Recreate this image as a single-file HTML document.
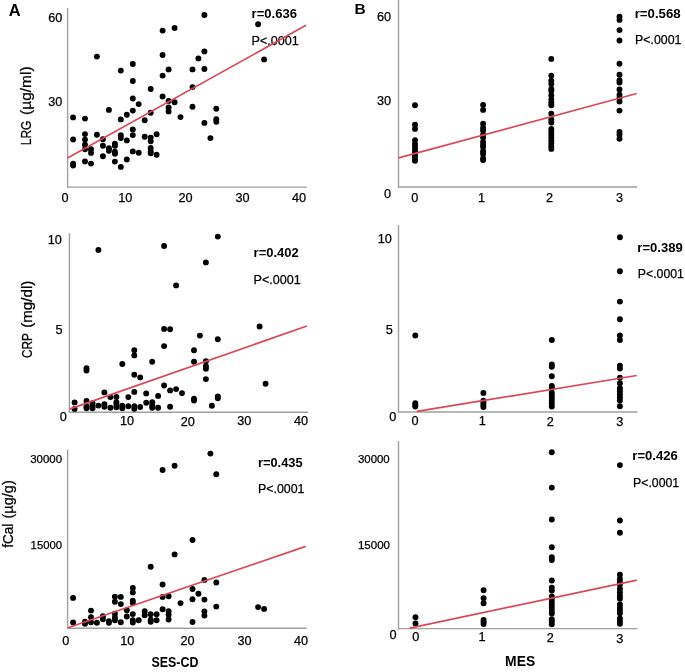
<!DOCTYPE html>
<html><head><meta charset="utf-8"><style>
html,body{margin:0;padding:0;background:#fff;}
svg{display:block;font-family:"Liberation Sans", sans-serif;will-change:transform;}
text{stroke:#000;stroke-width:0.25px;}
text[font-weight=bold]{stroke:none;}
</style></head><body>
<svg width="685" height="672" viewBox="0 0 685 672" fill="#000">
<text x="8.8" y="15.8" font-size="16.4" text-anchor="start" font-weight="bold">A</text>
<line x1="67.6" y1="8" x2="67.6" y2="187.8" stroke="#a0a0a0" stroke-width="1.4"/>
<line x1="67.0" y1="187.1" x2="306.9" y2="187.1" stroke="#a0a0a0" stroke-width="1.4"/>
<text x="62.4" y="22.0" font-size="12.7" text-anchor="end">60</text>
<text x="62.4" y="106.1" font-size="12.7" text-anchor="end">30</text>
<text x="65" y="202" font-size="12.7" text-anchor="middle">0</text>
<text x="125.2" y="202" font-size="12.7" text-anchor="middle">10</text>
<text x="185.5" y="202" font-size="12.7" text-anchor="middle">20</text>
<text x="242.5" y="202" font-size="12.7" text-anchor="middle">30</text>
<text x="299" y="202" font-size="12.7" text-anchor="middle">40</text>
<circle cx="73.1" cy="117.4" r="2.95"/>
<circle cx="73.1" cy="139.5" r="2.95"/>
<circle cx="73.1" cy="163.6" r="2.95"/>
<circle cx="73.1" cy="165.6" r="2.95"/>
<circle cx="85.0" cy="118.6" r="2.95"/>
<circle cx="85.0" cy="134.1" r="2.95"/>
<circle cx="85.0" cy="139.6" r="2.95"/>
<circle cx="85.0" cy="144.8" r="2.95"/>
<circle cx="85.0" cy="149.2" r="2.95"/>
<circle cx="85.0" cy="161.4" r="2.95"/>
<circle cx="91.0" cy="149.2" r="2.95"/>
<circle cx="91.0" cy="152.9" r="2.95"/>
<circle cx="91.0" cy="163.6" r="2.95"/>
<circle cx="96.9" cy="56.6" r="2.95"/>
<circle cx="96.9" cy="134.8" r="2.95"/>
<circle cx="102.9" cy="139.3" r="2.95"/>
<circle cx="102.9" cy="145.7" r="2.95"/>
<circle cx="102.9" cy="156.2" r="2.95"/>
<circle cx="108.9" cy="109.9" r="2.95"/>
<circle cx="108.9" cy="148.2" r="2.95"/>
<circle cx="108.9" cy="150.7" r="2.95"/>
<circle cx="114.9" cy="143.8" r="2.95"/>
<circle cx="114.9" cy="145.7" r="2.95"/>
<circle cx="114.9" cy="151.7" r="2.95"/>
<circle cx="114.9" cy="153.7" r="2.95"/>
<circle cx="114.9" cy="161.6" r="2.95"/>
<circle cx="120.8" cy="70.6" r="2.95"/>
<circle cx="120.8" cy="119.4" r="2.95"/>
<circle cx="120.8" cy="135.3" r="2.95"/>
<circle cx="120.8" cy="138.0" r="2.95"/>
<circle cx="120.8" cy="166.9" r="2.95"/>
<circle cx="126.8" cy="114.8" r="2.95"/>
<circle cx="126.8" cy="140.4" r="2.95"/>
<circle cx="126.8" cy="159.5" r="2.95"/>
<circle cx="132.8" cy="64.0" r="2.95"/>
<circle cx="132.8" cy="81.0" r="2.95"/>
<circle cx="132.8" cy="98.5" r="2.95"/>
<circle cx="132.8" cy="110.6" r="2.95"/>
<circle cx="132.8" cy="129.5" r="2.95"/>
<circle cx="132.8" cy="135.1" r="2.95"/>
<circle cx="132.8" cy="151.4" r="2.95"/>
<circle cx="138.7" cy="104.1" r="2.95"/>
<circle cx="138.7" cy="152.7" r="2.95"/>
<circle cx="144.7" cy="120.3" r="2.95"/>
<circle cx="144.7" cy="136.7" r="2.95"/>
<circle cx="150.7" cy="89.0" r="2.95"/>
<circle cx="150.7" cy="112.7" r="2.95"/>
<circle cx="150.7" cy="137.6" r="2.95"/>
<circle cx="150.7" cy="141.3" r="2.95"/>
<circle cx="150.7" cy="147.9" r="2.95"/>
<circle cx="150.7" cy="151.4" r="2.95"/>
<circle cx="150.7" cy="153.3" r="2.95"/>
<circle cx="156.6" cy="134.2" r="2.95"/>
<circle cx="156.6" cy="154.8" r="2.95"/>
<circle cx="162.6" cy="30.6" r="2.95"/>
<circle cx="162.6" cy="55.0" r="2.95"/>
<circle cx="162.6" cy="75.6" r="2.95"/>
<circle cx="162.6" cy="96.5" r="2.95"/>
<circle cx="168.6" cy="69.4" r="2.95"/>
<circle cx="168.6" cy="100.9" r="2.95"/>
<circle cx="168.6" cy="107.4" r="2.95"/>
<circle cx="168.6" cy="111.4" r="2.95"/>
<circle cx="174.6" cy="28.0" r="2.95"/>
<circle cx="174.6" cy="102.2" r="2.95"/>
<circle cx="180.5" cy="117.1" r="2.95"/>
<circle cx="192.5" cy="69.4" r="2.95"/>
<circle cx="192.5" cy="87.1" r="2.95"/>
<circle cx="192.5" cy="106.8" r="2.95"/>
<circle cx="198.4" cy="58.4" r="2.95"/>
<circle cx="204.4" cy="15.0" r="2.95"/>
<circle cx="204.4" cy="51.4" r="2.95"/>
<circle cx="204.4" cy="69.0" r="2.95"/>
<circle cx="204.4" cy="122.9" r="2.95"/>
<circle cx="210.4" cy="138.1" r="2.95"/>
<circle cx="216.3" cy="108.8" r="2.95"/>
<circle cx="216.3" cy="119.2" r="2.95"/>
<circle cx="216.3" cy="121.7" r="2.95"/>
<circle cx="258.1" cy="24.2" r="2.95"/>
<circle cx="264.1" cy="59.4" r="2.95"/>
<text x="251.6" y="18.4" font-size="12.7" text-anchor="start" font-weight="bold" textLength="45.4" lengthAdjust="spacingAndGlyphs">r=0.636</text>
<text x="251.6" y="45.0" font-size="12.7" text-anchor="start" textLength="47.2" lengthAdjust="spacingAndGlyphs">P&lt;.0001</text>
<line x1="67.6" y1="158.0" x2="306.0" y2="25.3" stroke="#d84a5a" stroke-width="1.7"/>
<text x="0" y="0" font-size="14.4" textLength="24.7" lengthAdjust="spacingAndGlyphs" transform="translate(30.6,145.3) rotate(-90)">LRG</text>
<text x="0" y="0" font-size="14.4" textLength="48.5" lengthAdjust="spacingAndGlyphs" transform="translate(30.6,114.9) rotate(-90)">(µg/ml)</text>
<text x="354.6" y="14.0" font-size="15.5" text-anchor="start" font-weight="bold">B</text>
<line x1="398.5" y1="0" x2="398.5" y2="187.8" stroke="#a0a0a0" stroke-width="1.4"/>
<line x1="397.9" y1="187.0" x2="637.1" y2="187.0" stroke="#a0a0a0" stroke-width="1.4"/>
<text x="391.1" y="20.7" font-size="12.7" text-anchor="end">60</text>
<text x="391.1" y="105.0" font-size="12.7" text-anchor="end">30</text>
<text x="391.0" y="197.7" font-size="12.7" text-anchor="end">0</text>
<text x="414.8" y="202" font-size="12.7" text-anchor="middle">0</text>
<text x="481.5" y="202" font-size="12.7" text-anchor="middle">1</text>
<text x="549.5" y="202" font-size="12.7" text-anchor="middle">2</text>
<text x="619.6" y="202" font-size="12.7" text-anchor="middle">3</text>
<circle cx="415.0" cy="105.2" r="2.95"/>
<circle cx="415.0" cy="124.7" r="2.95"/>
<circle cx="415.0" cy="128.9" r="2.95"/>
<circle cx="415.0" cy="140.1" r="2.95"/>
<circle cx="415.0" cy="143.6" r="2.95"/>
<circle cx="415.0" cy="146.1" r="2.95"/>
<circle cx="415.0" cy="149.0" r="2.95"/>
<circle cx="415.0" cy="151.5" r="2.95"/>
<circle cx="415.0" cy="154.2" r="2.95"/>
<circle cx="415.0" cy="157.0" r="2.95"/>
<circle cx="415.0" cy="159.6" r="2.95"/>
<circle cx="415.0" cy="160.8" r="2.95"/>
<circle cx="483.1" cy="104.9" r="2.95"/>
<circle cx="483.1" cy="109.9" r="2.95"/>
<circle cx="483.1" cy="123.7" r="2.95"/>
<circle cx="483.1" cy="128.0" r="2.95"/>
<circle cx="483.1" cy="130.6" r="2.95"/>
<circle cx="483.1" cy="134.6" r="2.95"/>
<circle cx="483.1" cy="137.5" r="2.95"/>
<circle cx="483.1" cy="142.0" r="2.95"/>
<circle cx="483.1" cy="144.8" r="2.95"/>
<circle cx="483.1" cy="147.0" r="2.95"/>
<circle cx="483.1" cy="151.2" r="2.95"/>
<circle cx="483.1" cy="154.0" r="2.95"/>
<circle cx="483.1" cy="158.4" r="2.95"/>
<circle cx="483.1" cy="160.1" r="2.95"/>
<circle cx="551.3" cy="58.9" r="2.95"/>
<circle cx="551.3" cy="75.6" r="2.95"/>
<circle cx="551.3" cy="80.8" r="2.95"/>
<circle cx="551.3" cy="84.0" r="2.95"/>
<circle cx="551.3" cy="89.0" r="2.95"/>
<circle cx="551.3" cy="91.0" r="2.95"/>
<circle cx="551.3" cy="95.4" r="2.95"/>
<circle cx="551.3" cy="99.6" r="2.95"/>
<circle cx="551.3" cy="102.4" r="2.95"/>
<circle cx="551.3" cy="105.2" r="2.95"/>
<circle cx="551.3" cy="113.8" r="2.95"/>
<circle cx="551.3" cy="119.4" r="2.95"/>
<circle cx="551.3" cy="122.5" r="2.95"/>
<circle cx="551.3" cy="129.0" r="2.95"/>
<circle cx="551.3" cy="131.8" r="2.95"/>
<circle cx="551.3" cy="134.7" r="2.95"/>
<circle cx="551.3" cy="137.6" r="2.95"/>
<circle cx="551.3" cy="140.5" r="2.95"/>
<circle cx="551.3" cy="143.4" r="2.95"/>
<circle cx="551.3" cy="146.2" r="2.95"/>
<circle cx="551.3" cy="148.9" r="2.95"/>
<circle cx="619.5" cy="16.8" r="2.95"/>
<circle cx="619.5" cy="19.9" r="2.95"/>
<circle cx="619.5" cy="30.1" r="2.95"/>
<circle cx="619.5" cy="40.5" r="2.95"/>
<circle cx="619.5" cy="63.8" r="2.95"/>
<circle cx="619.5" cy="74.7" r="2.95"/>
<circle cx="619.5" cy="80.3" r="2.95"/>
<circle cx="619.5" cy="82.5" r="2.95"/>
<circle cx="619.5" cy="89.4" r="2.95"/>
<circle cx="619.5" cy="94.8" r="2.95"/>
<circle cx="619.5" cy="98.0" r="2.95"/>
<circle cx="619.5" cy="101.5" r="2.95"/>
<circle cx="619.5" cy="110.6" r="2.95"/>
<circle cx="619.5" cy="132.0" r="2.95"/>
<circle cx="619.5" cy="134.8" r="2.95"/>
<circle cx="619.5" cy="138.8" r="2.95"/>
<text x="634.7" y="18.0" font-size="12.7" text-anchor="start" font-weight="bold" textLength="45.9" lengthAdjust="spacingAndGlyphs">r=0.568</text>
<text x="635.1" y="44.3" font-size="12.7" text-anchor="start" textLength="46.3" lengthAdjust="spacingAndGlyphs">P&lt;.0001</text>
<line x1="398.6" y1="157.9" x2="636.7" y2="93.5" stroke="#d84a5a" stroke-width="1.7"/>
<line x1="69.4" y1="233.1" x2="69.4" y2="412.7" stroke="#a0a0a0" stroke-width="1.4"/>
<line x1="68.8" y1="412.2" x2="308.2" y2="412.2" stroke="#a0a0a0" stroke-width="1.4"/>
<text x="61.9" y="243.6" font-size="12.7" text-anchor="end">10</text>
<text x="62.6" y="334.1" font-size="12.7" text-anchor="end">5</text>
<text x="66.8" y="420.8" font-size="12.7" text-anchor="end">0</text>
<text x="127" y="424.7" font-size="12.7" text-anchor="middle">10</text>
<text x="187.7" y="426.2" font-size="12.7" text-anchor="middle">20</text>
<text x="244.3" y="424.6" font-size="12.7" text-anchor="middle">30</text>
<text x="301" y="425.2" font-size="12.7" text-anchor="middle">40</text>
<circle cx="74.6" cy="402.4" r="2.95"/>
<circle cx="74.6" cy="408.9" r="2.95"/>
<circle cx="86.5" cy="368.2" r="2.95"/>
<circle cx="86.5" cy="370.6" r="2.95"/>
<circle cx="86.5" cy="400.9" r="2.95"/>
<circle cx="86.5" cy="406.3" r="2.95"/>
<circle cx="86.5" cy="408.3" r="2.95"/>
<circle cx="92.5" cy="403.3" r="2.95"/>
<circle cx="92.5" cy="406.3" r="2.95"/>
<circle cx="92.5" cy="408.3" r="2.95"/>
<circle cx="98.4" cy="250.0" r="2.95"/>
<circle cx="98.4" cy="405.6" r="2.95"/>
<circle cx="104.4" cy="392.4" r="2.95"/>
<circle cx="104.4" cy="404.3" r="2.95"/>
<circle cx="104.4" cy="406.8" r="2.95"/>
<circle cx="110.4" cy="397.1" r="2.95"/>
<circle cx="110.4" cy="407.8" r="2.95"/>
<circle cx="116.4" cy="396.9" r="2.95"/>
<circle cx="116.4" cy="402.3" r="2.95"/>
<circle cx="116.4" cy="404.8" r="2.95"/>
<circle cx="116.4" cy="407.3" r="2.95"/>
<circle cx="122.3" cy="364.0" r="2.95"/>
<circle cx="122.3" cy="405.8" r="2.95"/>
<circle cx="122.3" cy="408.3" r="2.95"/>
<circle cx="128.3" cy="397.1" r="2.95"/>
<circle cx="128.3" cy="406.3" r="2.95"/>
<circle cx="134.3" cy="350.3" r="2.95"/>
<circle cx="134.3" cy="355.4" r="2.95"/>
<circle cx="134.3" cy="374.8" r="2.95"/>
<circle cx="134.3" cy="391.9" r="2.95"/>
<circle cx="134.3" cy="406.3" r="2.95"/>
<circle cx="134.3" cy="408.8" r="2.95"/>
<circle cx="140.2" cy="377.4" r="2.95"/>
<circle cx="140.2" cy="407.0" r="2.95"/>
<circle cx="146.2" cy="393.4" r="2.95"/>
<circle cx="146.2" cy="402.8" r="2.95"/>
<circle cx="152.2" cy="361.7" r="2.95"/>
<circle cx="152.2" cy="402.3" r="2.95"/>
<circle cx="152.2" cy="405.3" r="2.95"/>
<circle cx="152.2" cy="407.8" r="2.95"/>
<circle cx="158.1" cy="395.9" r="2.95"/>
<circle cx="158.1" cy="407.8" r="2.95"/>
<circle cx="164.1" cy="246.0" r="2.95"/>
<circle cx="164.1" cy="328.9" r="2.95"/>
<circle cx="164.1" cy="346.1" r="2.95"/>
<circle cx="164.1" cy="385.5" r="2.95"/>
<circle cx="170.1" cy="329.2" r="2.95"/>
<circle cx="170.1" cy="390.4" r="2.95"/>
<circle cx="170.1" cy="406.8" r="2.95"/>
<circle cx="176.1" cy="285.4" r="2.95"/>
<circle cx="176.1" cy="389.1" r="2.95"/>
<circle cx="182.0" cy="393.1" r="2.95"/>
<circle cx="194.0" cy="350.3" r="2.95"/>
<circle cx="194.0" cy="361.7" r="2.95"/>
<circle cx="194.0" cy="398.7" r="2.95"/>
<circle cx="194.0" cy="400.5" r="2.95"/>
<circle cx="199.9" cy="335.6" r="2.95"/>
<circle cx="205.9" cy="262.4" r="2.95"/>
<circle cx="205.9" cy="361.2" r="2.95"/>
<circle cx="205.9" cy="366.2" r="2.95"/>
<circle cx="205.9" cy="368.7" r="2.95"/>
<circle cx="205.9" cy="379.1" r="2.95"/>
<circle cx="211.9" cy="405.7" r="2.95"/>
<circle cx="217.8" cy="236.6" r="2.95"/>
<circle cx="217.8" cy="339.2" r="2.95"/>
<circle cx="217.8" cy="396.5" r="2.95"/>
<circle cx="217.8" cy="398.2" r="2.95"/>
<circle cx="259.6" cy="326.5" r="2.95"/>
<circle cx="265.6" cy="383.8" r="2.95"/>
<text x="253.6" y="257.4" font-size="12.7" text-anchor="start" font-weight="bold" textLength="45.2" lengthAdjust="spacingAndGlyphs">r=0.402</text>
<text x="253.6" y="284.2" font-size="12.7" text-anchor="start" textLength="47.2" lengthAdjust="spacingAndGlyphs">P&lt;.0001</text>
<line x1="69.4" y1="409.1" x2="306.9" y2="326.0" stroke="#d84a5a" stroke-width="1.7"/>
<text x="0" y="0" font-size="14.2" textLength="25.0" lengthAdjust="spacingAndGlyphs" transform="translate(31.8,358.1) rotate(-90)">CRP</text>
<text x="0" y="0" font-size="14.2" textLength="47.1" lengthAdjust="spacingAndGlyphs" transform="translate(31.8,327.8) rotate(-90)">(mg/dl)</text>
<line x1="398.5" y1="225.1" x2="398.5" y2="412.7" stroke="#a0a0a0" stroke-width="1.4"/>
<line x1="397.9" y1="412.0" x2="637.4" y2="412.0" stroke="#a0a0a0" stroke-width="1.4"/>
<text x="391.9" y="243.2" font-size="12.7" text-anchor="end">10</text>
<text x="392.7" y="334.1" font-size="12.7" text-anchor="end">5</text>
<text x="396.4" y="420.7" font-size="12.7" text-anchor="end">0</text>
<text x="415.1" y="424.8" font-size="12.7" text-anchor="middle">0</text>
<text x="482.2" y="424.7" font-size="12.7" text-anchor="middle">1</text>
<text x="550.3" y="426" font-size="12.7" text-anchor="middle">2</text>
<text x="619.8" y="426" font-size="12.7" text-anchor="middle">3</text>
<circle cx="415.3" cy="335.5" r="2.95"/>
<circle cx="415.3" cy="403.3" r="2.95"/>
<circle cx="415.3" cy="405.0" r="2.95"/>
<circle cx="415.3" cy="406.5" r="2.95"/>
<circle cx="483.4" cy="392.9" r="2.95"/>
<circle cx="483.4" cy="400.7" r="2.95"/>
<circle cx="483.4" cy="403.0" r="2.95"/>
<circle cx="483.4" cy="405.0" r="2.95"/>
<circle cx="483.4" cy="407.0" r="2.95"/>
<circle cx="551.8" cy="340.0" r="2.95"/>
<circle cx="551.8" cy="364.5" r="2.95"/>
<circle cx="551.8" cy="366.8" r="2.95"/>
<circle cx="551.8" cy="376.2" r="2.95"/>
<circle cx="551.8" cy="386.0" r="2.95"/>
<circle cx="551.8" cy="388.0" r="2.95"/>
<circle cx="551.8" cy="392.6" r="2.95"/>
<circle cx="551.8" cy="395.2" r="2.95"/>
<circle cx="551.8" cy="398.0" r="2.95"/>
<circle cx="551.8" cy="400.8" r="2.95"/>
<circle cx="551.8" cy="403.6" r="2.95"/>
<circle cx="551.8" cy="406.6" r="2.95"/>
<circle cx="619.9" cy="237.3" r="2.95"/>
<circle cx="619.9" cy="271.2" r="2.95"/>
<circle cx="619.9" cy="301.6" r="2.95"/>
<circle cx="619.9" cy="319.3" r="2.95"/>
<circle cx="619.9" cy="335.4" r="2.95"/>
<circle cx="619.9" cy="340.0" r="2.95"/>
<circle cx="619.9" cy="365.8" r="2.95"/>
<circle cx="619.9" cy="368.6" r="2.95"/>
<circle cx="619.9" cy="377.8" r="2.95"/>
<circle cx="619.9" cy="383.3" r="2.95"/>
<circle cx="619.9" cy="388.3" r="2.95"/>
<circle cx="619.9" cy="391.2" r="2.95"/>
<circle cx="619.9" cy="394.3" r="2.95"/>
<circle cx="619.9" cy="397.2" r="2.95"/>
<circle cx="619.9" cy="400.5" r="2.95"/>
<circle cx="619.9" cy="406.3" r="2.95"/>
<text x="637.3" y="251.6" font-size="12.7" text-anchor="start" font-weight="bold" textLength="45.5" lengthAdjust="spacingAndGlyphs">r=0.389</text>
<text x="637.8" y="278.3" font-size="12.7" text-anchor="start" textLength="46.1" lengthAdjust="spacingAndGlyphs">P&lt;.0001</text>
<line x1="416.9" y1="411.4" x2="636.7" y2="375.5" stroke="#d84a5a" stroke-width="1.7"/>
<line x1="67.6" y1="449.5" x2="67.6" y2="629.0" stroke="#a0a0a0" stroke-width="1.4"/>
<line x1="67.0" y1="628.3" x2="306.8" y2="628.3" stroke="#a0a0a0" stroke-width="1.4"/>
<text x="62.1" y="463.0" font-size="11.3" text-anchor="end" textLength="31.9" lengthAdjust="spacingAndGlyphs">30000</text>
<text x="62.1" y="549.0" font-size="11.3" text-anchor="end" textLength="31.5" lengthAdjust="spacingAndGlyphs">15000</text>
<text x="65.85" y="644.9" font-size="12.7" text-anchor="middle">0</text>
<text x="127.2" y="645" font-size="12.7" text-anchor="middle">10</text>
<text x="187.5" y="645" font-size="12.7" text-anchor="middle">20</text>
<text x="244.5" y="645" font-size="12.7" text-anchor="middle">30</text>
<text x="301" y="645" font-size="12.7" text-anchor="middle">40</text>
<circle cx="73.1" cy="597.9" r="2.95"/>
<circle cx="73.1" cy="622.5" r="2.95"/>
<circle cx="85.0" cy="621.7" r="2.95"/>
<circle cx="85.0" cy="623.7" r="2.95"/>
<circle cx="91.0" cy="610.6" r="2.95"/>
<circle cx="91.0" cy="617.3" r="2.95"/>
<circle cx="91.0" cy="622.2" r="2.95"/>
<circle cx="96.9" cy="622.7" r="2.95"/>
<circle cx="102.9" cy="616.3" r="2.95"/>
<circle cx="102.9" cy="619.3" r="2.95"/>
<circle cx="108.9" cy="621.2" r="2.95"/>
<circle cx="108.9" cy="622.7" r="2.95"/>
<circle cx="114.9" cy="596.7" r="2.95"/>
<circle cx="114.9" cy="601.7" r="2.95"/>
<circle cx="114.9" cy="613.8" r="2.95"/>
<circle cx="114.9" cy="617.8" r="2.95"/>
<circle cx="114.9" cy="620.3" r="2.95"/>
<circle cx="120.8" cy="596.9" r="2.95"/>
<circle cx="120.8" cy="604.1" r="2.95"/>
<circle cx="120.8" cy="622.2" r="2.95"/>
<circle cx="126.8" cy="610.3" r="2.95"/>
<circle cx="126.8" cy="616.5" r="2.95"/>
<circle cx="132.8" cy="587.9" r="2.95"/>
<circle cx="132.8" cy="592.4" r="2.95"/>
<circle cx="132.8" cy="600.7" r="2.95"/>
<circle cx="132.8" cy="602.8" r="2.95"/>
<circle cx="132.8" cy="614.1" r="2.95"/>
<circle cx="132.8" cy="620.2" r="2.95"/>
<circle cx="132.8" cy="622.5" r="2.95"/>
<circle cx="138.7" cy="620.2" r="2.95"/>
<circle cx="144.7" cy="611.3" r="2.95"/>
<circle cx="144.7" cy="615.3" r="2.95"/>
<circle cx="150.7" cy="566.8" r="2.95"/>
<circle cx="150.7" cy="614.3" r="2.95"/>
<circle cx="150.7" cy="619.7" r="2.95"/>
<circle cx="150.7" cy="621.7" r="2.95"/>
<circle cx="156.6" cy="614.3" r="2.95"/>
<circle cx="156.6" cy="620.2" r="2.95"/>
<circle cx="162.6" cy="470.0" r="2.95"/>
<circle cx="162.6" cy="584.5" r="2.95"/>
<circle cx="162.6" cy="596.9" r="2.95"/>
<circle cx="162.6" cy="609.3" r="2.95"/>
<circle cx="168.6" cy="596.2" r="2.95"/>
<circle cx="168.6" cy="611.3" r="2.95"/>
<circle cx="168.6" cy="614.8" r="2.95"/>
<circle cx="168.6" cy="619.5" r="2.95"/>
<circle cx="174.6" cy="465.8" r="2.95"/>
<circle cx="174.6" cy="554.4" r="2.95"/>
<circle cx="180.5" cy="603.1" r="2.95"/>
<circle cx="192.5" cy="540.0" r="2.95"/>
<circle cx="192.5" cy="589.0" r="2.95"/>
<circle cx="192.5" cy="599.3" r="2.95"/>
<circle cx="192.5" cy="622.0" r="2.95"/>
<circle cx="198.4" cy="593.7" r="2.95"/>
<circle cx="204.4" cy="579.9" r="2.95"/>
<circle cx="204.4" cy="599.6" r="2.95"/>
<circle cx="204.4" cy="611.5" r="2.95"/>
<circle cx="204.4" cy="615.6" r="2.95"/>
<circle cx="210.4" cy="453.6" r="2.95"/>
<circle cx="216.3" cy="474.2" r="2.95"/>
<circle cx="216.3" cy="582.5" r="2.95"/>
<circle cx="216.3" cy="606.6" r="2.95"/>
<circle cx="258.1" cy="607.1" r="2.95"/>
<circle cx="264.1" cy="608.9" r="2.95"/>
<text x="258.0" y="466.5" font-size="12.7" text-anchor="start" font-weight="bold" textLength="44.6" lengthAdjust="spacingAndGlyphs">r=0.435</text>
<text x="258.0" y="492.8" font-size="12.7" text-anchor="start" textLength="46.5" lengthAdjust="spacingAndGlyphs">P&lt;.0001</text>
<line x1="68.0" y1="627.7" x2="305.7" y2="546.4" stroke="#d84a5a" stroke-width="1.7"/>
<text x="0" y="0" font-size="14.0" textLength="24.1" lengthAdjust="spacingAndGlyphs" transform="translate(12.8,547.8) rotate(-90)">fCal</text>
<text x="0" y="0" font-size="14.0" textLength="38.3" lengthAdjust="spacingAndGlyphs" transform="translate(12.8,518.5) rotate(-90)">(µg/g)</text>
<text x="151.5" y="666.8" font-size="14.2" text-anchor="start" font-weight="bold" textLength="46.9" lengthAdjust="spacingAndGlyphs">SES-CD</text>
<line x1="398.5" y1="441.2" x2="398.5" y2="629.4" stroke="#a0a0a0" stroke-width="1.4"/>
<line x1="397.9" y1="628.6" x2="637.6" y2="628.6" stroke="#a0a0a0" stroke-width="1.4"/>
<text x="389.7" y="463.2" font-size="11.3" text-anchor="end" textLength="31.7" lengthAdjust="spacingAndGlyphs">30000</text>
<text x="390.0" y="548.9" font-size="11.3" text-anchor="end" textLength="32.1" lengthAdjust="spacingAndGlyphs">15000</text>
<text x="396.5" y="639.0" font-size="12.7" text-anchor="end">0</text>
<text x="415.8" y="641.3" font-size="12.7" text-anchor="middle">0</text>
<text x="482.1" y="641" font-size="12.7" text-anchor="middle">1</text>
<text x="550.2" y="642.3" font-size="12.7" text-anchor="middle">2</text>
<text x="619.9" y="643.1" font-size="12.7" text-anchor="middle">3</text>
<circle cx="415.5" cy="617.2" r="2.95"/>
<circle cx="415.5" cy="623.5" r="2.95"/>
<circle cx="483.6" cy="590.3" r="2.95"/>
<circle cx="483.6" cy="598.3" r="2.95"/>
<circle cx="483.6" cy="603.2" r="2.95"/>
<circle cx="483.6" cy="620.0" r="2.95"/>
<circle cx="483.6" cy="622.0" r="2.95"/>
<circle cx="483.6" cy="624.0" r="2.95"/>
<circle cx="551.8" cy="452.2" r="2.95"/>
<circle cx="551.8" cy="487.6" r="2.95"/>
<circle cx="551.8" cy="519.5" r="2.95"/>
<circle cx="551.8" cy="547.2" r="2.95"/>
<circle cx="551.8" cy="557.3" r="2.95"/>
<circle cx="551.8" cy="560.0" r="2.95"/>
<circle cx="551.8" cy="580.5" r="2.95"/>
<circle cx="551.8" cy="587.6" r="2.95"/>
<circle cx="551.8" cy="590.5" r="2.95"/>
<circle cx="551.8" cy="596.5" r="2.95"/>
<circle cx="551.8" cy="599.0" r="2.95"/>
<circle cx="551.8" cy="602.0" r="2.95"/>
<circle cx="551.8" cy="605.0" r="2.95"/>
<circle cx="551.8" cy="608.0" r="2.95"/>
<circle cx="551.8" cy="611.0" r="2.95"/>
<circle cx="551.8" cy="613.6" r="2.95"/>
<circle cx="551.8" cy="619.2" r="2.95"/>
<circle cx="551.8" cy="621.5" r="2.95"/>
<circle cx="551.8" cy="624.2" r="2.95"/>
<circle cx="619.9" cy="465.1" r="2.95"/>
<circle cx="619.9" cy="520.5" r="2.95"/>
<circle cx="619.9" cy="532.8" r="2.95"/>
<circle cx="619.9" cy="574.7" r="2.95"/>
<circle cx="619.9" cy="579.0" r="2.95"/>
<circle cx="619.9" cy="582.0" r="2.95"/>
<circle cx="619.9" cy="584.4" r="2.95"/>
<circle cx="619.9" cy="588.7" r="2.95"/>
<circle cx="619.9" cy="592.2" r="2.95"/>
<circle cx="619.9" cy="595.8" r="2.95"/>
<circle cx="619.9" cy="598.7" r="2.95"/>
<circle cx="619.9" cy="604.5" r="2.95"/>
<circle cx="619.9" cy="607.7" r="2.95"/>
<circle cx="619.9" cy="610.5" r="2.95"/>
<circle cx="619.9" cy="613.2" r="2.95"/>
<circle cx="619.9" cy="618.4" r="2.95"/>
<circle cx="619.9" cy="621.0" r="2.95"/>
<circle cx="619.9" cy="623.7" r="2.95"/>
<text x="632.3" y="460.1" font-size="12.7" text-anchor="start" font-weight="bold" textLength="45.5" lengthAdjust="spacingAndGlyphs">r=0.426</text>
<text x="633.0" y="487.0" font-size="12.7" text-anchor="start" textLength="46.2" lengthAdjust="spacingAndGlyphs">P&lt;.0001</text>
<line x1="409.8" y1="628.2" x2="636.9" y2="580.1" stroke="#d84a5a" stroke-width="1.7"/>
<text x="505.1" y="665.9" font-size="14.2" text-anchor="start" font-weight="bold" textLength="30.1" lengthAdjust="spacingAndGlyphs">MES</text>
</svg>
</body></html>
